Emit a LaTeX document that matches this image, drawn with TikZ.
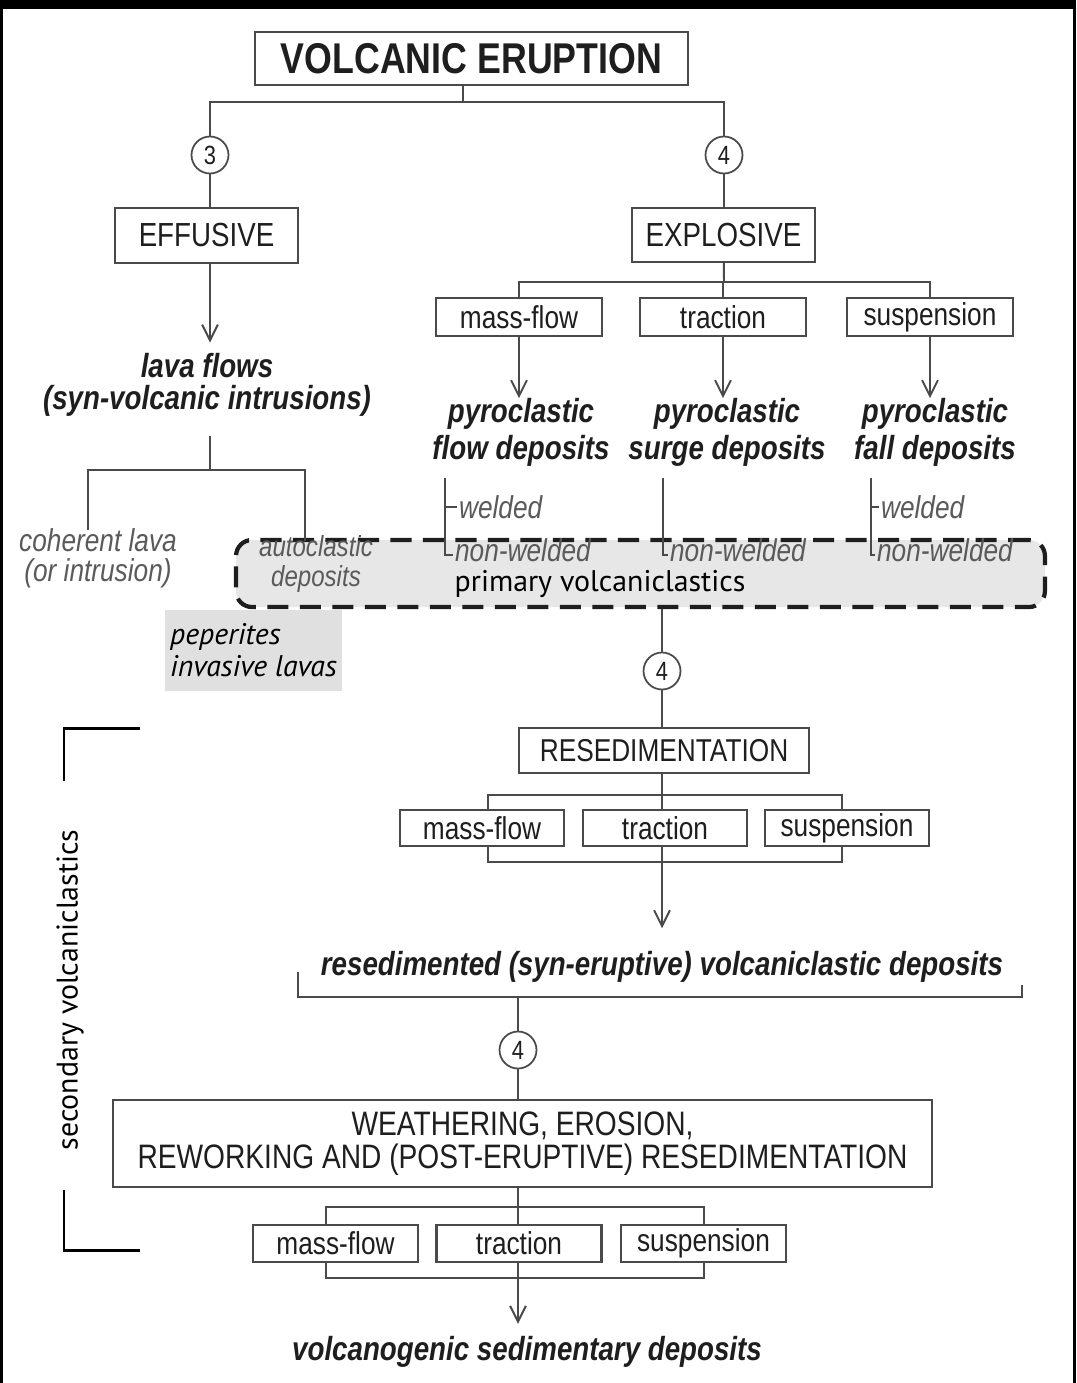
\documentclass[tikz,border=0pt]{standalone}
\usepackage{fontspec}
\setmainfont{Liberation Sans}
\newfontfamily\narrowsf[FakeStretch=0.83]{Liberation Sans}
\newfontfamily\myriadsf{PT Sans}
\usepackage{tikz}
\usetikzlibrary{arrows.meta, positioning, calc}
\definecolor{vink}{HTML}{1E1E1E}
\definecolor{vline}{HTML}{4A4A4A}
\definecolor{vgraytxt}{HTML}{5A5A5A}
\definecolor{vprimfill}{HTML}{E7E7E7}
\definecolor{vpepfill}{HTML}{E0E0E0}

\begin{document}
\begin{tikzpicture}[x=0.02cm, y=-0.02cm,
  box/.style 2 args={draw=vline, line width=1.3pt, fill=white, inner sep=0pt,
    minimum width=#1, minimum height=#2, text=vink},
  capsbox/.style={font=\narrowsf\fontsize{19}{19}\selectfont, align=center},
  smallbox/.style={font=\narrowsf\fontsize{18}{20}\selectfont},
  num/.style={draw=vline, line width=1pt, circle, fill=white, minimum size=0.74cm,
    inner sep=0pt, font=\narrowsf\fontsize{15}{17}\selectfont, text=vink},
  deptxt/.style={font=\narrowsf\bfseries\itshape\fontsize{19}{21}\selectfont,
    text=vink, align=center, inner sep=0pt},
  subtxt/.style={font=\narrowsf\itshape\fontsize{18}{17}\selectfont,
    text=vgraytxt, align=center, inner sep=1pt},
  link/.style={draw=vline, line width=1.1pt},
  arr/.style={link, -{Straight Barb[length=9pt, width=9pt, line width=1.1pt]}},
]

  %% Canvas and frame
  \useasboundingbox (0,0) rectangle (1076,1383);
  \fill[white] (0,0) rectangle (1076,1383);
  \fill[black] (0,0) rectangle (1076,9);
  \fill[black] (0,0) rectangle (3,1383);
  \fill[black] (1073,0) rectangle (1076,1383);

  %% Eruption and the two branches
  \node[box={8.66cm}{1.06cm}, font=\narrowsf\bfseries\fontsize{24.5}{26}\selectfont]
    (erupt) at (471.5,58.5) {VOLCANIC ERUPTION};
  \node[num] (n3) at (210,155) {3};
  \node[num] (n4a) at (724,155) {4};
  \node[box={3.66cm}{1.10cm}, capsbox] (effusive) at (206.5,235.5) {EFFUSIVE};
  \node[box={3.66cm}{1.08cm}, capsbox] (explosive) at (723.5,235) {EXPLOSIVE};
  \coordinate (split) at (463,102);
  \draw[link] (erupt.south -| split) -- (split);
  \draw[link] (n3) |- (split) -| (n4a);
  \draw[link] (n3) -- (n3 |- effusive.north);
  \draw[link] (n4a) -- (n4a |- explosive.north);

  %% Primary volcaniclastics band (behind everything below)
  \node[draw=vink, line width=2.4pt, dash pattern=on 12pt off 6.5pt, fill=vprimfill,
    rounded corners=9pt, minimum width=16.18cm, minimum height=1.34cm, inner sep=0pt]
    (primbox) at (640.5,573.5) {};
  \node[font=\myriadsf\fontsize{17}{19}\selectfont, text=black, inner sep=0pt]
    (primtxt) at (600,584) {primary volcaniclastics};

  %% Effusive side
  \node[deptxt, font=\narrowsf\bfseries\itshape\fontsize{19}{18.2}\selectfont]
    (lava) at (207,385) {lava flows\\(syn-volcanic intrusions)};
  \draw[arr, shorten >=6pt] (effusive.south -| n3) -- (n3 |- lava.north);
  \coordinate (lstem) at (210,436);
  \coordinate (lfork) at (210,470);
  \coordinate (cohtop) at (88,530);
  \coordinate (autotop) at (305,541);
  \node[subtxt] (coherent) at (98,558) {coherent lava\\(or intrusion)};
  \node[subtxt, font=\narrowsf\itshape\fontsize{16.5}{17}\selectfont]
    (autoclastic) at (316,564) {autoclastic\\deposits};
  \draw[link] (lstem) -- (lfork);
  \draw[link] (cohtop) |- (lfork) -| (autotop);
  \node[fill=vpepfill, minimum height=1.62cm, minimum width=3.54cm, inner sep=0pt,
    align=left, font=\myriadsf\itshape\fontsize{17}{18.2}\selectfont, text=black]
    (pepbox) at (253.5,650.5) {peperites\\invasive lavas};

  %% Explosive side
  \coordinate (xsplit) at (724,282);
  \draw[link] (explosive) -- (xsplit);
  \foreach \nm/\x/\txt in {mf1/519/mass-flow, tr1/723/traction, su1/930/suspension}{
    \node[box={3.32cm}{0.76cm}, smallbox] (\nm) at (\x,317) {\txt};
    \draw[link] (xsplit) -| (\nm);
  }
  \node[deptxt] (py1) at (521,432.5) {pyroclastic\\flow deposits};
  \node[deptxt] (py2) at (727,432.5) {pyroclastic\\surge deposits};
  \node[deptxt] (py3) at (935,432.5) {pyroclastic\\fall deposits};
  \draw[arr] (mf1) -- (mf1 |- py1.north);
  \draw[arr] (tr1) -- (tr1 |- py2.north);
  \draw[arr] (su1) -- (su1 |- py3.north);

  %% Welded / non-welded
  \coordinate (wtop1) at (445,478);
  \coordinate (wtop2) at (663,478);
  \coordinate (wtop3) at (871,478);
  \node[subtxt, anchor=west] (wd1) at (457,507) {welded};
  \node[subtxt, anchor=west] (nw1) at (453,550) {non-welded};
  \node[subtxt, anchor=west] (nw2) at (668,550) {non-welded};
  \node[subtxt, anchor=west] (wd3) at (879,507) {welded};
  \node[subtxt, anchor=west] (nw3) at (875,550) {non-welded};
  \draw[link] (wtop1) |- ([yshift=-3pt]nw1.west);
  \draw[link] (wtop1 |- wd1.west) -- (wd1.west);
  \draw[link] (wtop2) |- ([yshift=-3pt]nw2.west);
  \draw[link] (wtop3) |- ([yshift=-3pt]nw3.west);
  \draw[link] (wtop3 |- wd3.west) -- (wd3.west);

  %% Resedimentation
  \node[num] (n4b) at (662,671) {4};
  \draw[link] (primbox.south -| n4b) -- (n4b);
  \node[box={5.80cm}{0.90cm}, font=\narrowsf\fontsize{18}{20}\selectfont]
    (resed) at (664,750.5) {RESEDIMENTATION};
  \draw[link] (n4b) -- (n4b |- resed.north);
  \node[deptxt] (resdep) at (662,967) {resedimented (syn-eruptive) volcaniclastic deposits};
  \coordinate (rbr1) at (488,795);
  \coordinate (rbr2) at (842,862);
  \draw[link] (rbr1) rectangle (rbr2);
  \draw[arr, shorten >=13pt] (resed.south -| n4b) -- (n4b |- resdep.north);
  \foreach \nm/\x/\txt in {mf2/482/mass-flow, tr2/665/traction, su2/847/suspension}{
    \node[box={3.28cm}{0.72cm}, smallbox] (\nm) at (\x,828) {\txt};
  }

  %% Underline of resedimented deposits
  \coordinate (ubl) at (298,972);
  \coordinate (ubr) at (1022,985);
  \coordinate (ubase) at (518,997);
  \draw[link] (ubl) |- (ubase) -| (ubr);

  %% Weathering and reworking
  \node[num] (n4c) at (518,1050) {4};
  \draw[link] (ubase) -- (n4c);
  \node[box={16.38cm}{1.74cm}, font=\narrowsf\fontsize{19.3}{19}\selectfont, align=center]
    (weather) at (522.5,1143.5)
    {WEATHERING, EROSION,\\REWORKING AND (POST-ERUPTIVE) RESEDIMENTATION};
  \draw[link] (n4c) -- (n4c |- weather.north);
  \node[deptxt] (volcsed) at (527,1352) {volcanogenic sedimentary deposits};
  \coordinate (wbr1) at (326,1207);
  \coordinate (wbr2) at (704,1278);
  \draw[link] (wbr1) rectangle (wbr2);
  \draw[arr, shorten >=7pt] (weather.south -| n4c) -- (n4c |- volcsed.north);
  \foreach \nm/\x/\txt in {mf3/335.5/mass-flow, tr3/519/traction, su3/703.5/suspension}{
    \node[box={3.30cm}{0.74cm}, smallbox] (\nm) at (\x,1243.5) {\txt};
  }

  %% Secondary volcaniclastics bracket
  \coordinate (sbt) at (140,728);
  \coordinate (sbtc) at (64,781);
  \coordinate (sbbc) at (64,1190);
  \coordinate (sbb) at (140,1250);
  \draw[black, line width=1.7pt] (sbt) -| (sbtc);
  \draw[black, line width=1.7pt] (sbbc) |- (sbb);
  \node[rotate=90, font=\myriadsf\fontsize{17}{19}\selectfont, text=black]
    (secvolc) at (70,990) {secondary volcaniclastics};

\end{tikzpicture}
\end{document}
